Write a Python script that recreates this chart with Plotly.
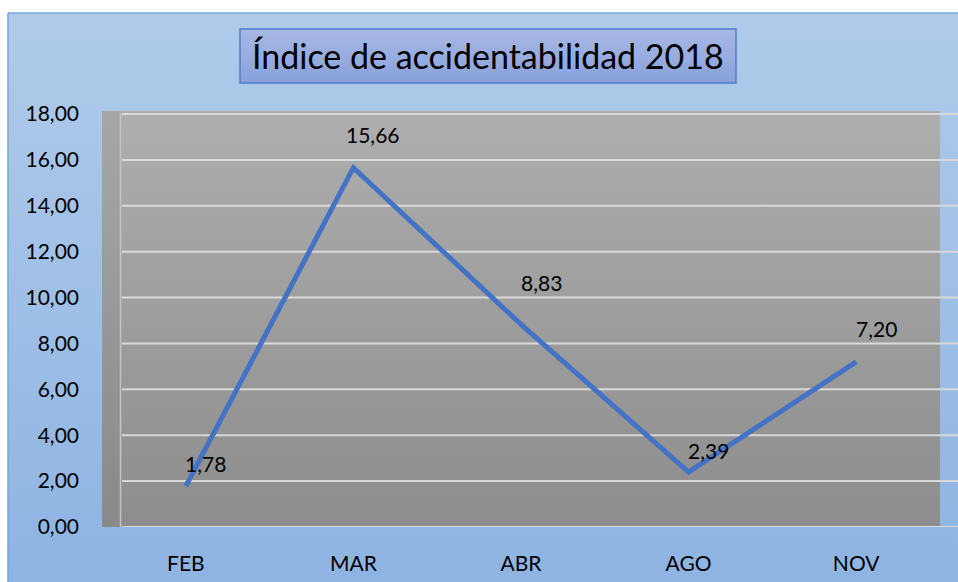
import base64
import plotly.graph_objects as go

# ---- data ----
months = ["FEB", "MAR", "ABR", "AGO", "NOV"]
indice = [1.78, 15.66, 8.83, 2.39, 7.20]
y_ticks = [0, 2, 4, 6, 8, 10, 12, 14, 16, 18]
title_text = "Índice de accidentabilidad 2018"

# ---- style ----
W, H = 958, 582
ML, MR, MT, MB = 102, 18, 111, 55
PW, PH = W - ML - MR, H - MT - MB
label_yshift = [23, 33, 42, 22, 33]   # label offsets (style)
FONT = "Lato"


def xp(px):
    return (px - ML) / PW


def yp(py):
    return (H - MB - py) / PH


def grad_svg(top, bottom):
    s = ('<svg xmlns="http://www.w3.org/2000/svg" width="100" height="100" preserveAspectRatio="none">'
         '<defs><linearGradient id="g" x1="0" y1="0" x2="0" y2="1">'
         f'<stop offset="0" stop-color="{top}"/><stop offset="1" stop-color="{bottom}"/>'
         '</linearGradient></defs>'
         '<rect x="0" y="0" width="100" height="100" fill="url(#g)"/></svg>')
    return "data:image/svg+xml;base64," + base64.b64encode(s.encode()).decode()


def img(px0, py0, px1, py1, top, bottom):
    return dict(source=grad_svg(top, bottom), xref="paper", yref="paper",
                x=xp(px0), y=yp(py0), sizex=xp(px1) - xp(px0), sizey=yp(py0) - yp(py1),
                xanchor="left", yanchor="top", sizing="stretch", layer="below")


images = [
    img(8, 13, 970, 600, "#b0cbea", "#8db3e2"),      # chart area
    img(102, 111, 940, 527, "#aeaeae", "#8d8d8d"),   # back wall
    img(102, 111, 120, 527, "#a7a7a7", "#898989"),   # side wall
    img(240, 29, 736, 83, "#a8b8e4", "#88a1db"),     # title box
]

shapes = [
    # chart border
    dict(type="line", xref="paper", yref="paper", x0=xp(8), x1=xp(8), y0=yp(13), y1=yp(600),
         line=dict(color="#78a5db", width=1.5), layer="below"),
    dict(type="line", xref="paper", yref="paper", x0=xp(8), x1=xp(970), y0=yp(13), y1=yp(13),
         line=dict(color="#78a5db", width=1.5), layer="below"),
    # side wall edge
    dict(type="line", xref="paper", yref="paper", x0=xp(120.5), x1=xp(120.5), y0=yp(113), y1=yp(527),
         line=dict(color="#c4c4c4", width=1.5), layer="below"),
    # title box border
    dict(type="rect", xref="paper", yref="paper", x0=xp(240), x1=xp(736), y0=yp(29), y1=yp(83),
         line=dict(color="#4f7ccb", width=1.5), fillcolor="rgba(0,0,0,0)", layer="below"),
]
for t in y_ticks:
    shapes.append(dict(type="line", xref="paper", yref="y", x0=xp(122), x1=xp(960), y0=t, y1=t,
                       line=dict(color="#d9d9d9", width=2), layer="below"))

fig = go.Figure()
fig.add_trace(go.Scatter(
    x=months, y=indice, mode="lines",
    line=dict(color="#4472c4", width=5),
    hoverinfo="x+y", showlegend=False,
))

annotations = [
    dict(x=m, y=v, xref="x", yref="y", text=f"{v:.2f}".replace(".", ","),
         showarrow=False, xshift=20, yshift=ys,
         font=dict(family=FONT, size=21, color="#000000"))
    for m, v, ys in zip(months, indice, label_yshift)
]
annotations.append(dict(
    x=xp(488), y=yp(56), xref="paper", yref="paper", text=title_text, showarrow=False,
    xanchor="center", yanchor="middle",
    font=dict(family=FONT, size=34, color="#000000"),
))

fig.update_layout(
    width=W, height=H,
    margin=dict(l=ML, r=MR, t=MT, b=MB, pad=0),
    paper_bgcolor="#ffffff",
    plot_bgcolor="rgba(0,0,0,0)",
    separators=",.",
    images=images,
    shapes=shapes,
    annotations=annotations,
    font=dict(family=FONT, size=21, color="#000000"),
    xaxis=dict(
        type="category", range=[-0.5, 4.5], showgrid=False, zeroline=False,
        showline=False, ticks="", ticklabelstandoff=22, automargin=False,
        tickfont=dict(family=FONT, size=21, color="#000000"),
        fixedrange=True,
    ),
    yaxis=dict(
        range=[0, 18 * PH / 413], tickvals=y_ticks, tickformat=".2f",
        showgrid=False, zeroline=False, showline=False, ticks="",
        ticklabelstandoff=22, automargin=False,
        tickfont=dict(family=FONT, size=21, color="#000000"),
        fixedrange=True,
    ),
)

fig.write_html(
    "out.html",
    config={"displayModeBar": False},
    post_script="document.body.style.margin='0px';document.body.style.overflow='hidden';",
)
